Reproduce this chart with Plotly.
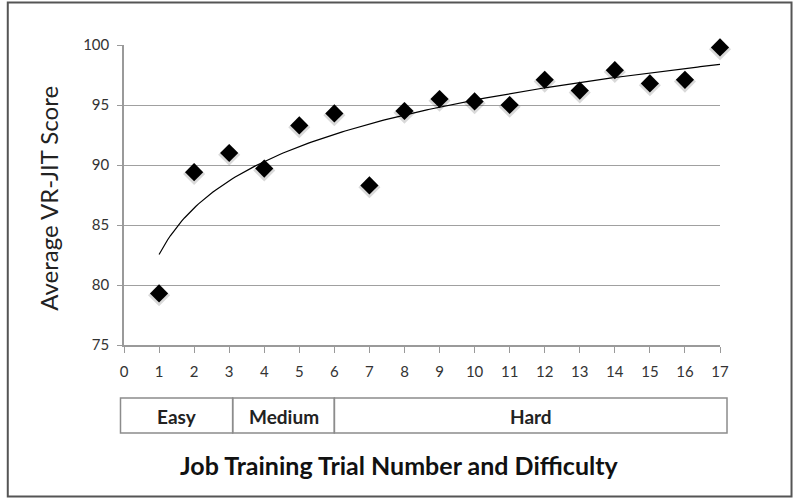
import numpy as np
import plotly.graph_objects as go

trials = list(range(1, 18))
scores = [79.3, 89.4, 91.0, 89.7, 93.3, 94.3, 88.3, 94.5, 95.5, 95.3,
          95.0, 97.1, 96.2, 97.9, 96.8, 97.1, 99.8]
x_ticks = list(range(0, 18))
y_ticks = [75, 80, 85, 90, 95, 100]
difficulty = ["Easy", "Medium", "Hard"]
difficulty_bounds = [-0.1, 3.1, 6.0, 17.2]

X_MIN, X_MAX = 0, 17

# logarithmic trend line fitted to the data
b, a = np.polyfit(np.log(trials), scores, 1)
xt = np.linspace(1, 17, 200)
yt = a + b * np.log(xt)

FONT = "Lato"
fig = go.Figure()
fig.add_trace(go.Scatter(x=xt, y=yt, mode="lines",
                         line=dict(color="black", width=1.2), hoverinfo="skip"))
# soft shadow
fig.add_trace(go.Scatter(x=trials, y=[s - 0.15 for s in scores], mode="markers",
                         marker=dict(symbol="diamond", size=17, color="rgba(0,0,0,0.15)"),
                         hoverinfo="skip", cliponaxis=False))
fig.add_trace(go.Scatter(x=trials, y=scores, mode="markers", cliponaxis=False,
                         marker=dict(symbol="diamond", size=14, color="black")))


def to_paper(v):
    return (v - X_MIN) / (X_MAX - X_MIN)


shapes = []
annotations = []
for i, name in enumerate(difficulty):
    x0, x1 = difficulty_bounds[i], difficulty_bounds[i + 1]
    shapes.append(dict(type="rect", xref="paper", yref="paper",
                       x0=to_paper(x0), x1=to_paper(x1),
                       y0=-0.293, y1=-0.177, line=dict(color="#8c8c8c", width=1.5),
                       fillcolor="rgba(0,0,0,0)"))
    annotations.append(dict(xref="paper", yref="paper", x=to_paper((x0 + x1) / 2), y=-0.237,
                            xanchor="center", yanchor="middle",
                            text="<b>%s</b>" % name, showarrow=False,
                            font=dict(family=FONT, size=19, color="#222")))
# outer frame
shapes.append(dict(type="rect", xref="paper", yref="paper", x0=-0.195, x1=1.12,
                   y0=-0.505, y1=1.142, line=dict(color="#555", width=2)))
annotations.append(dict(xref="paper", yref="paper", x=-0.128, y=0.49,
                        xanchor="center", yanchor="middle",
                        text="Average VR-JIT Score", textangle=-90, showarrow=False,
                        font=dict(family=FONT, size=24, color="#222")))
annotations.append(dict(xref="paper", yref="paper", x=0.463, y=-0.40,
                        xanchor="center", yanchor="middle",
                        text="<b>Job Training Trial Number and Difficulty</b>",
                        showarrow=False, font=dict(family=FONT, size=25, color="#111")))

fig.update_layout(
    width=800, height=503, showlegend=False,
    margin=dict(l=124, r=80, t=45, b=158),
    paper_bgcolor="white", plot_bgcolor="white",
    shapes=shapes, annotations=annotations,
    xaxis=dict(range=[X_MIN, X_MAX], tickvals=x_ticks, showgrid=False, zeroline=False,
               showline=True, linecolor="#9a9a9a", linewidth=1.5,
               ticks="outside", ticklen=6, tickcolor="#9a9a9a",
               ticklabelstandoff=6,
               tickfont=dict(family=FONT, size=15, color="#333")),
    yaxis=dict(range=[75, 100], tickvals=y_ticks, showgrid=True, gridcolor="#a0a0a0",
               gridwidth=1, zeroline=False, showline=True, linecolor="#9a9a9a",
               linewidth=1.5, ticks="outside", ticklen=5, tickcolor="#9a9a9a",
               ticklabelstandoff=5,
               tickfont=dict(family=FONT, size=15, color="#333")),
)
fig.write_html("out.html", config={"displayModeBar": False},
               post_script="document.body.style.margin='0';document.body.style.overflow='hidden';")
